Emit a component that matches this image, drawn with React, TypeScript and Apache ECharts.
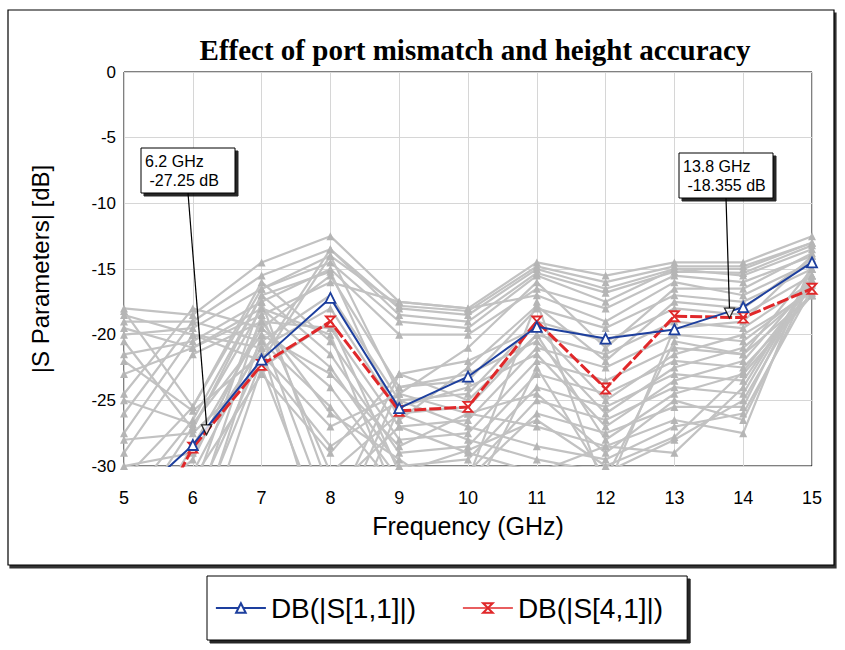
import React, { useEffect, useRef } from "react";
import * as echarts from "echarts";

const freqs = [5, 6, 7, 8, 9, 10, 11, 12, 13, 14, 15];
const yTicks = [0, -5, -10, -15, -20, -25, -30];

const s11Name = "DB(|S[1,1]|)";
const s41Name = "DB(|S[4,1]|)";
const s11 = [-33.2, -28.4, -21.9, -17.2, -25.6, -23.2, -19.4, -20.3, -19.6, -17.9, -14.5];
const s41 = [-38.6, -28.6, -22.3, -19.0, -25.8, -25.5, -19.0, -24.1, -18.6, -18.7, -16.5];

const markerFreqs = [6.2, 13.8];
const markerValues = [-27.25, -18.355];
const markerTexts = ["6.2 GHz\n -27.25 dB", "13.8 GHz\n -18.355 dB"];

const g01 = [-18, -18.5, -14.5, -12.5, -17.5, -18, -14.5, -15.5, -14.5, -14.5, -12.5];
const g02 = [-19, -19, -15.5, -13.5, -18, -18.5, -15, -16.5, -15, -15, -13];
const g03 = [-20, -19.5, -16.5, -14.5, -19, -19.5, -15.5, -17.5, -15, -15.5, -13.5];
const g04 = [-21.5, -20.5, -17.5, -15, -20, -20, -16.5, -18, -15.5, -16, -14];
const g05 = [-23, -21, -18.5, -16, -17.5, -18, -17, -19, -16, -17, -14.5];
const g06 = [-24.5, -18, -19.5, -15.5, -24, -23.5, -18, -19.5, -17, -17.5, -15];
const g07 = [-26, -19, -20.5, -17, -25, -24.5, -19, -20.5, -18, -18.5, -15.5];
const g08 = [-27.5, -20, -21, -18, -26, -25.5, -20, -21.5, -19, -19.5, -16];
const g09 = [-29, -21.5, -19, -19.5, -27, -26.5, -21, -22.5, -20, -20.5, -16.5];
const g10 = [-31, -25.5, -16, -20.5, -28, -27.5, -22, -23.5, -21, -21.5, -17];
const g11 = [-33, -26.5, -17, -21.5, -29, -28.5, -23, -24.5, -22, -22.5, -17];
const g12 = [-35, -27, -18, -22.5, -30, -29.5, -24, -25.5, -23, -23.5, -16];
const g13 = [-37, -28.5, -19.5, -24, -31, -30.5, -25, -26.5, -24, -24.5, -15.5];
const g14 = [-40, -30.5, -20.5, -25.5, -32, -31, -26, -27.5, -25.5, -25.5, -15];
const g15 = [-42, -33, -21.5, -27, -24.5, -26, -27, -28.5, -26.5, -27.5, -14.5];
const g16 = [-45, -35, -22, -28.5, -25, -27, -28.5, -29.5, -27, -26, -16.5];
const g17 = [-38, -34, -18.5, -30.5, -26, -28, -29.5, -30.5, -28, -25, -16];
const g18 = [-36, -32, -17.5, -32, -27, -29, -30.5, -28.5, -29, -24, -15.5];
const g19 = [-18.5, -20, -22, -14, -17.8, -18.2, -14.8, -16, -14.8, -14.8, -13];
const g20 = [-22, -25.8, -21.5, -13.5, -18.5, -19, -15.3, -16.8, -15.2, -15.3, -13.2];
const g21 = [-25, -26.8, -20, -34, -23, -22, -19.5, -25, -21.5, -20, -16.8];
const g22 = [-28, -27.5, -22.5, -36, -24, -23, -20.5, -26, -22.5, -21, -16.5];
const g23 = [-30, -29, -21, -38, -25.5, -24, -21.5, -27, -23.5, -22, -16];
const g24 = [-32, -31, -23, -29, -23, -25, -20, -28, -24.5, -23, -17];
const g25 = [-19.5, -21, -18, -20, -33, -31, -17.5, -32, -19.5, -19, -14];
const g26 = [-34, -29.5, -19, -26, -29.5, -33, -22.5, -31, -20.5, -21.5, -15];
const g27 = [-18.2, -25.5, -16.5, -14, -24.5, -21, -16, -21, -16.5, -16.5, -13.8];
const g28 = [-20.5, -27.2, -17, -15.2, -26.5, -22.5, -17.8, -22, -17.5, -18, -14.2];
const g29 = [-39, -36, -20, -23, -28.5, -26, -24.5, -29, -25, -26.5, -15.8];
const g30 = [-43, -38, -22.5, -19, -30.5, -28.8, -26.5, -30, -27.8, -22.8, -16.2];
const grayTraces = [g01, g02, g03, g04, g05, g06, g07, g08, g09, g10, g11, g12, g13,
  g14, g15, g16, g17, g18, g19, g20, g21, g22, g23, g24, g25, g26, g27, g28, g29, g30];

const SANS = "'Liberation Sans', Arial, sans-serif";
const BLUE = "#1d3f9e";
const RED = "#e0282a";
const GRAY = "#c2c2c2";

// annotation box layout (pixels)
const boxLayout = [
  { x: 141, y: 148, w: 94, h: 45 },
  { x: 679, y: 153, w: 94, h: 45 },
];

export default function App() {
  const ref = useRef<HTMLDivElement>(null);
  useEffect(() => {
    document.body.style.margin = "0";
    if (!ref.current) return;
    const chart = echarts.init(ref.current, undefined, { renderer: "svg" });
    const pair = (arr: number[]) => freqs.map((f, i) => [f, arr[i]]);

    const graySeries = grayTraces.map((t, k) => ({
      name: "g" + k,
      type: "line",
      data: pair(t),
      symbol: "triangle",
      symbolSize: 8,
      z: 1,
      lineStyle: { color: GRAY, width: 2.2 },
      itemStyle: { color: "#b5b5b5" },
      emphasis: { disabled: true },
      silent: true,
    }));

    const option: any = {
      animation: false,
      title: {
        text: "Effect of port mismatch and height accuracy",
        left: 470,
        top: 30,
        textAlign: "center",
        textStyle: {
          fontFamily: "'Liberation Serif', 'Times New Roman', serif",
          fontWeight: "bold",
          fontSize: 29,
          color: "#000",
        },
      },
      grid: {
        left: 124,
        right: 33,
        top: 72,
        bottom: 184,
        show: true,
        borderColor: "#000",
        borderWidth: 1,
        backgroundColor: "#fff",
      },
      legend: {
        data: [
          { name: s11Name, lineStyle: { width: 1.8 } },
          { name: s41Name, lineStyle: { type: "solid", width: 1.5 } },
        ],
        left: 207,
        top: 576,
        padding: [18, 24, 18, 8],
        itemGap: 46,
        itemWidth: 50,
        itemHeight: 12,
        backgroundColor: "#fff",
        borderColor: "#000",
        borderWidth: 1,
        shadowColor: "rgba(0,0,0,0.85)",
        shadowOffsetX: 3,
        shadowOffsetY: 3,
        shadowBlur: 0,
        textStyle: { fontFamily: SANS, fontSize: 28, color: "#000" },
      },
      xAxis: {
        type: "value",
        min: 5,
        max: 15,
        interval: 1,
        name: "Frequency (GHz)",
        nameLocation: "middle",
        nameGap: 47,
        nameTextStyle: { fontFamily: SANS, fontSize: 25, color: "#000" },
        axisLine: { show: false },
        axisTick: { show: false },
        axisLabel: { fontFamily: SANS, fontSize: 18, color: "#000", margin: 23 },
        splitLine: { show: true, lineStyle: { color: "#d6d6d6", width: 1 } },
      },
      yAxis: {
        type: "value",
        min: -30,
        max: 0,
        interval: 5,
        name: "|S Parameters| [dB]",
        nameLocation: "middle",
        nameGap: 72,
        nameTextStyle: { fontFamily: SANS, fontSize: 24, color: "#000" },
        axisLine: { show: false },
        axisTick: { show: false },
        axisLabel: {
          fontFamily: SANS,
          fontSize: 17,
          color: "#000",
          margin: 8,
          formatter: (v: number) => (yTicks.includes(v) ? String(v) : ""),
        },
        splitLine: { show: true, lineStyle: { color: "#d6d6d6", width: 1 } },
      },
      series: [
        ...graySeries,
        {
          name: s41Name,
          type: "line",
          data: pair(s41),
          z: 3,
          symbol: "path://M0,0 L10,0 L0,12 L10,12 Z",
          symbolSize: [9, 10],
          lineStyle: { color: RED, width: 3, type: [12, 3] },
          itemStyle: { color: "#fff", borderColor: RED, borderWidth: 1.8 },
        },
        {
          name: s11Name,
          type: "line",
          data: pair(s11),
          z: 4,
          symbol: "triangle",
          symbolSize: 10,
          lineStyle: { color: BLUE, width: 2 },
          itemStyle: { color: "#fff", borderColor: BLUE, borderWidth: 1.8 },
        },
        {
          name: "markers",
          type: "scatter",
          data: markerFreqs.map((f, i) => [f, markerValues[i]]),
          z: 6,
          symbol: "triangle",
          symbolRotate: 180,
          symbolSize: 10,
          itemStyle: { color: "#fff", borderColor: "#000", borderWidth: 1.3 },
          silent: true,
        },
      ],
      graphic: [
        {
          type: "rect",
          z: -5,
          shape: { x: 8, y: 10, width: 826, height: 555 },
          style: {
            fill: "#fff",
            stroke: "#000",
            lineWidth: 1.2,
            shadowColor: "rgba(0,0,0,0.8)",
            shadowOffsetX: 2,
            shadowOffsetY: 3,
            shadowBlur: 0,
          },
        },
      ],
    };
    chart.setOption(option);

    const annots: any[] = [];
    markerFreqs.forEach((f, i) => {
      const p = chart.convertToPixel({ gridIndex: 0 }, [f, markerValues[i]]) as number[];
      const b = boxLayout[i];
      annots.push({
        type: "line",
        z: 50,
        shape: { x1: b.x + b.w / 2, y1: b.y + b.h, x2: p[0], y2: p[1] - 5 },
        style: { stroke: "#000", lineWidth: 1.2 },
      });
      annots.push({
        type: "rect",
        z: 51,
        shape: { x: b.x, y: b.y, width: b.w, height: b.h },
        style: {
          fill: "#fff",
          stroke: "#000",
          lineWidth: 1,
          shadowColor: "rgba(0,0,0,0.85)",
          shadowOffsetX: 3,
          shadowOffsetY: 3,
          shadowBlur: 0,
        },
      });
      annots.push({
        type: "text",
        z: 52,
        x: b.x + 4,
        y: b.y + 4,
        style: {
          text: markerTexts[i],
          fontFamily: SANS,
          fontSize: 16,
          lineHeight: 19,
          fill: "#000",
        },
      });
    });
    chart.setOption({ graphic: [option.graphic[0], ...annots] });

    return () => chart.dispose();
  }, []);
  return <div ref={ref} style={{ width: 845, height: 650 }} />;
}
